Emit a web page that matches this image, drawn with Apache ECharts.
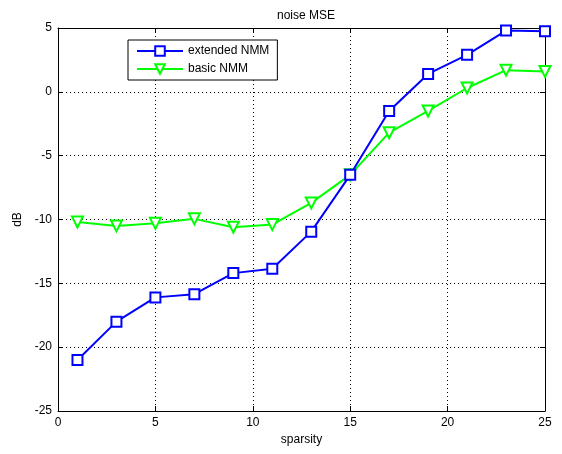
<!DOCTYPE html>
<html>
<head>
<meta charset="utf-8">
<script src="https://cdn.jsdelivr.net/npm/echarts@6/dist/echarts.min.js"></script>
<style>html,body{margin:0;padding:0;background:#fff;}#c{width:562px;height:454px;}</style>
</head>
<body>
<div id="c"></div>
<script>
var sparsity = [1, 3, 5, 7, 9, 11, 13, 15, 17, 19, 21, 23, 25];
var extendedNMM = [-21.0, -18.0, -16.1, -15.85, -14.2, -13.85, -10.95, -6.5, -1.5, 1.4, 2.9, 4.8, 4.75];
var basicNMM = [-10.2, -10.5, -10.3, -9.95, -10.6, -10.4, -8.7, -6.5, -3.2, -1.5, 0.3, 1.7, 1.6];
var xTicks = [0, 5, 10, 15, 20, 25];
var yTicks = [-25, -20, -15, -10, -5, 0, 5];

function pairs(xs, ys) { return xs.map(function (x, i) { return [x, ys[i]]; }); }

var font = 'Liberation Sans, Arial, sans-serif';
var chart = echarts.init(document.getElementById('c'), null, {renderer: 'canvas'});
var axisCommon = {
  axisLine: {show: true, onZero: false, lineStyle: {color: '#000', width: 1}},
  axisTick: {show: true, inside: true, length: 5, lineStyle: {color: '#000'}},
  axisLabel: {color: '#000', fontFamily: font, fontSize: 12}
};
chart.setOption({
  animation: false,
  backgroundColor: '#fff',
  title: {
    text: 'noise MSE', left: 301, top: 5, textAlign: 'center',
    textStyle: {fontFamily: font, fontSize: 12, fontWeight: 'normal', color: '#000'}
  },
  legend: {
    left: 128, top: 40, orient: 'vertical',
    width: 164, height: 44,
    padding: [5, 8, 5, 8],
    itemGap: 6,
    itemWidth: 46, itemHeight: 12,
    borderColor: '#000', borderWidth: 1,
    backgroundColor: '#fff',
    textStyle: {fontFamily: font, fontSize: 12, color: '#000', width: 100},
    data: ['extended NMM', 'basic NMM']
  },
  grid: {left: 58, right: 17, top: 28, bottom: 43, containLabel: false},
  xAxis: [
    Object.assign({}, axisCommon, {
      type: 'value', min: xTicks[0], max: xTicks[xTicks.length - 1], interval: 5,
      name: 'sparsity', nameLocation: 'middle', nameGap: 22,
      nameTextStyle: {fontFamily: font, fontSize: 12, color: '#000'},
      axisLabel: {color: '#000', fontFamily: font, fontSize: 12, margin: 6},
      splitLine: {show: true, lineStyle: {color: '#000', type: [1, 3], width: 1}}
    }),
    Object.assign({}, axisCommon, {
      type: 'value', position: 'top', min: xTicks[0], max: xTicks[xTicks.length - 1], interval: 5,
      axisLabel: {show: false}, splitLine: {show: false}
    })
  ],
  yAxis: [
    Object.assign({}, axisCommon, {
      type: 'value', min: yTicks[0], max: yTicks[yTicks.length - 1], interval: 5,
      name: 'dB', nameLocation: 'middle', nameGap: 34, nameRotate: 90,
      nameTextStyle: {fontFamily: font, fontSize: 12, color: '#000'},
      axisLabel: {color: '#000', fontFamily: font, fontSize: 12, margin: 6},
      splitLine: {show: true, lineStyle: {color: '#000', type: [1, 3], width: 1}}
    }),
    Object.assign({}, axisCommon, {
      type: 'value', position: 'right', min: yTicks[0], max: yTicks[yTicks.length - 1], interval: 5,
      axisLabel: {show: false}, splitLine: {show: false}
    })
  ],
  series: [
    {
      name: 'extended NMM', type: 'line', data: pairs(sparsity, extendedNMM),
      symbol: 'emptyRect', symbolSize: 10,
      lineStyle: {color: '#0000ff', width: 2},
      itemStyle: {color: '#0000ff', borderColor: '#0000ff', borderWidth: 2},
      z: 3
    },
    {
      name: 'basic NMM', type: 'line', data: pairs(sparsity, basicNMM),
      symbol: 'emptyTriangle', symbolRotate: 180, symbolSize: 11,
      lineStyle: {color: '#00ff00', width: 2},
      itemStyle: {color: '#00ff00', borderColor: '#00ff00', borderWidth: 2},
      z: 2
    }
  ]
});
</script>
</body>
</html>
